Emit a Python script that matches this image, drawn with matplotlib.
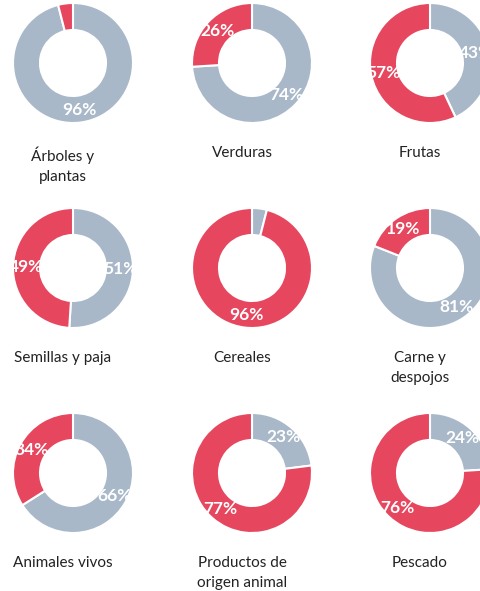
import numpy as np
import matplotlib
matplotlib.use('Agg')
import matplotlib.pyplot as plt

# share of each category (grey part first, clockwise from 12 o'clock, then red)
titles = [
    'Árboles y\nplantas', 'Verduras', 'Frutas',
    'Semillas y paja', 'Cereales', 'Carne y\ndespojos',
    'Animales vivos', 'Productos de\norigen animal', 'Pescado',
]
grey_pct = [96, 74, 43, 51, 4, 81, 66, 23, 24]
red_pct = [4, 26, 57, 49, 96, 19, 34, 77, 76]

GREY = '#a8b8c9'
RED = '#e6475f'
W, H = 481, 591

fig = plt.figure(figsize=(W / 100, H / 100), dpi=100)
ax = fig.add_axes([0, 0, 1, 1])

col_x = [73, 252, 430]
row_y = [63, 268, 473]
R = 60

for i, (title, g, r) in enumerate(zip(titles, grey_pct, red_pct)):
    cx = col_x[i % 3]
    cy = H - row_y[i // 3]
    ax.pie([g, r], colors=[GREY, RED], startangle=90, counterclock=False,
           center=(cx, cy), radius=R,
           wedgeprops=dict(width=R * 0.45, edgecolor='white', linewidth=1.5))

    # labels on the ring at the middle of each slice
    start = 0
    for val in [g, r]:
        mid = np.deg2rad((start + val / 2) / 100 * 360)
        start += val
        if val < 10:
            continue
        lr = R * 0.79
        ax.text(cx + lr * np.sin(mid), cy + lr * np.cos(mid), f'{val}%',
                ha='center', va='center', color='white', fontsize=12.5,
                fontweight='bold', family='Lato')

    ax.text(cx - 10, cy - 83, title, ha='center', va='top', fontsize=11,
            family='Lato', color='#222222', linespacing=1.55)

ax.set_xlim(0, W)
ax.set_ylim(0, H)
ax.set_aspect('equal')
ax.axis('off')

fig.savefig('out.png', dpi=100)
